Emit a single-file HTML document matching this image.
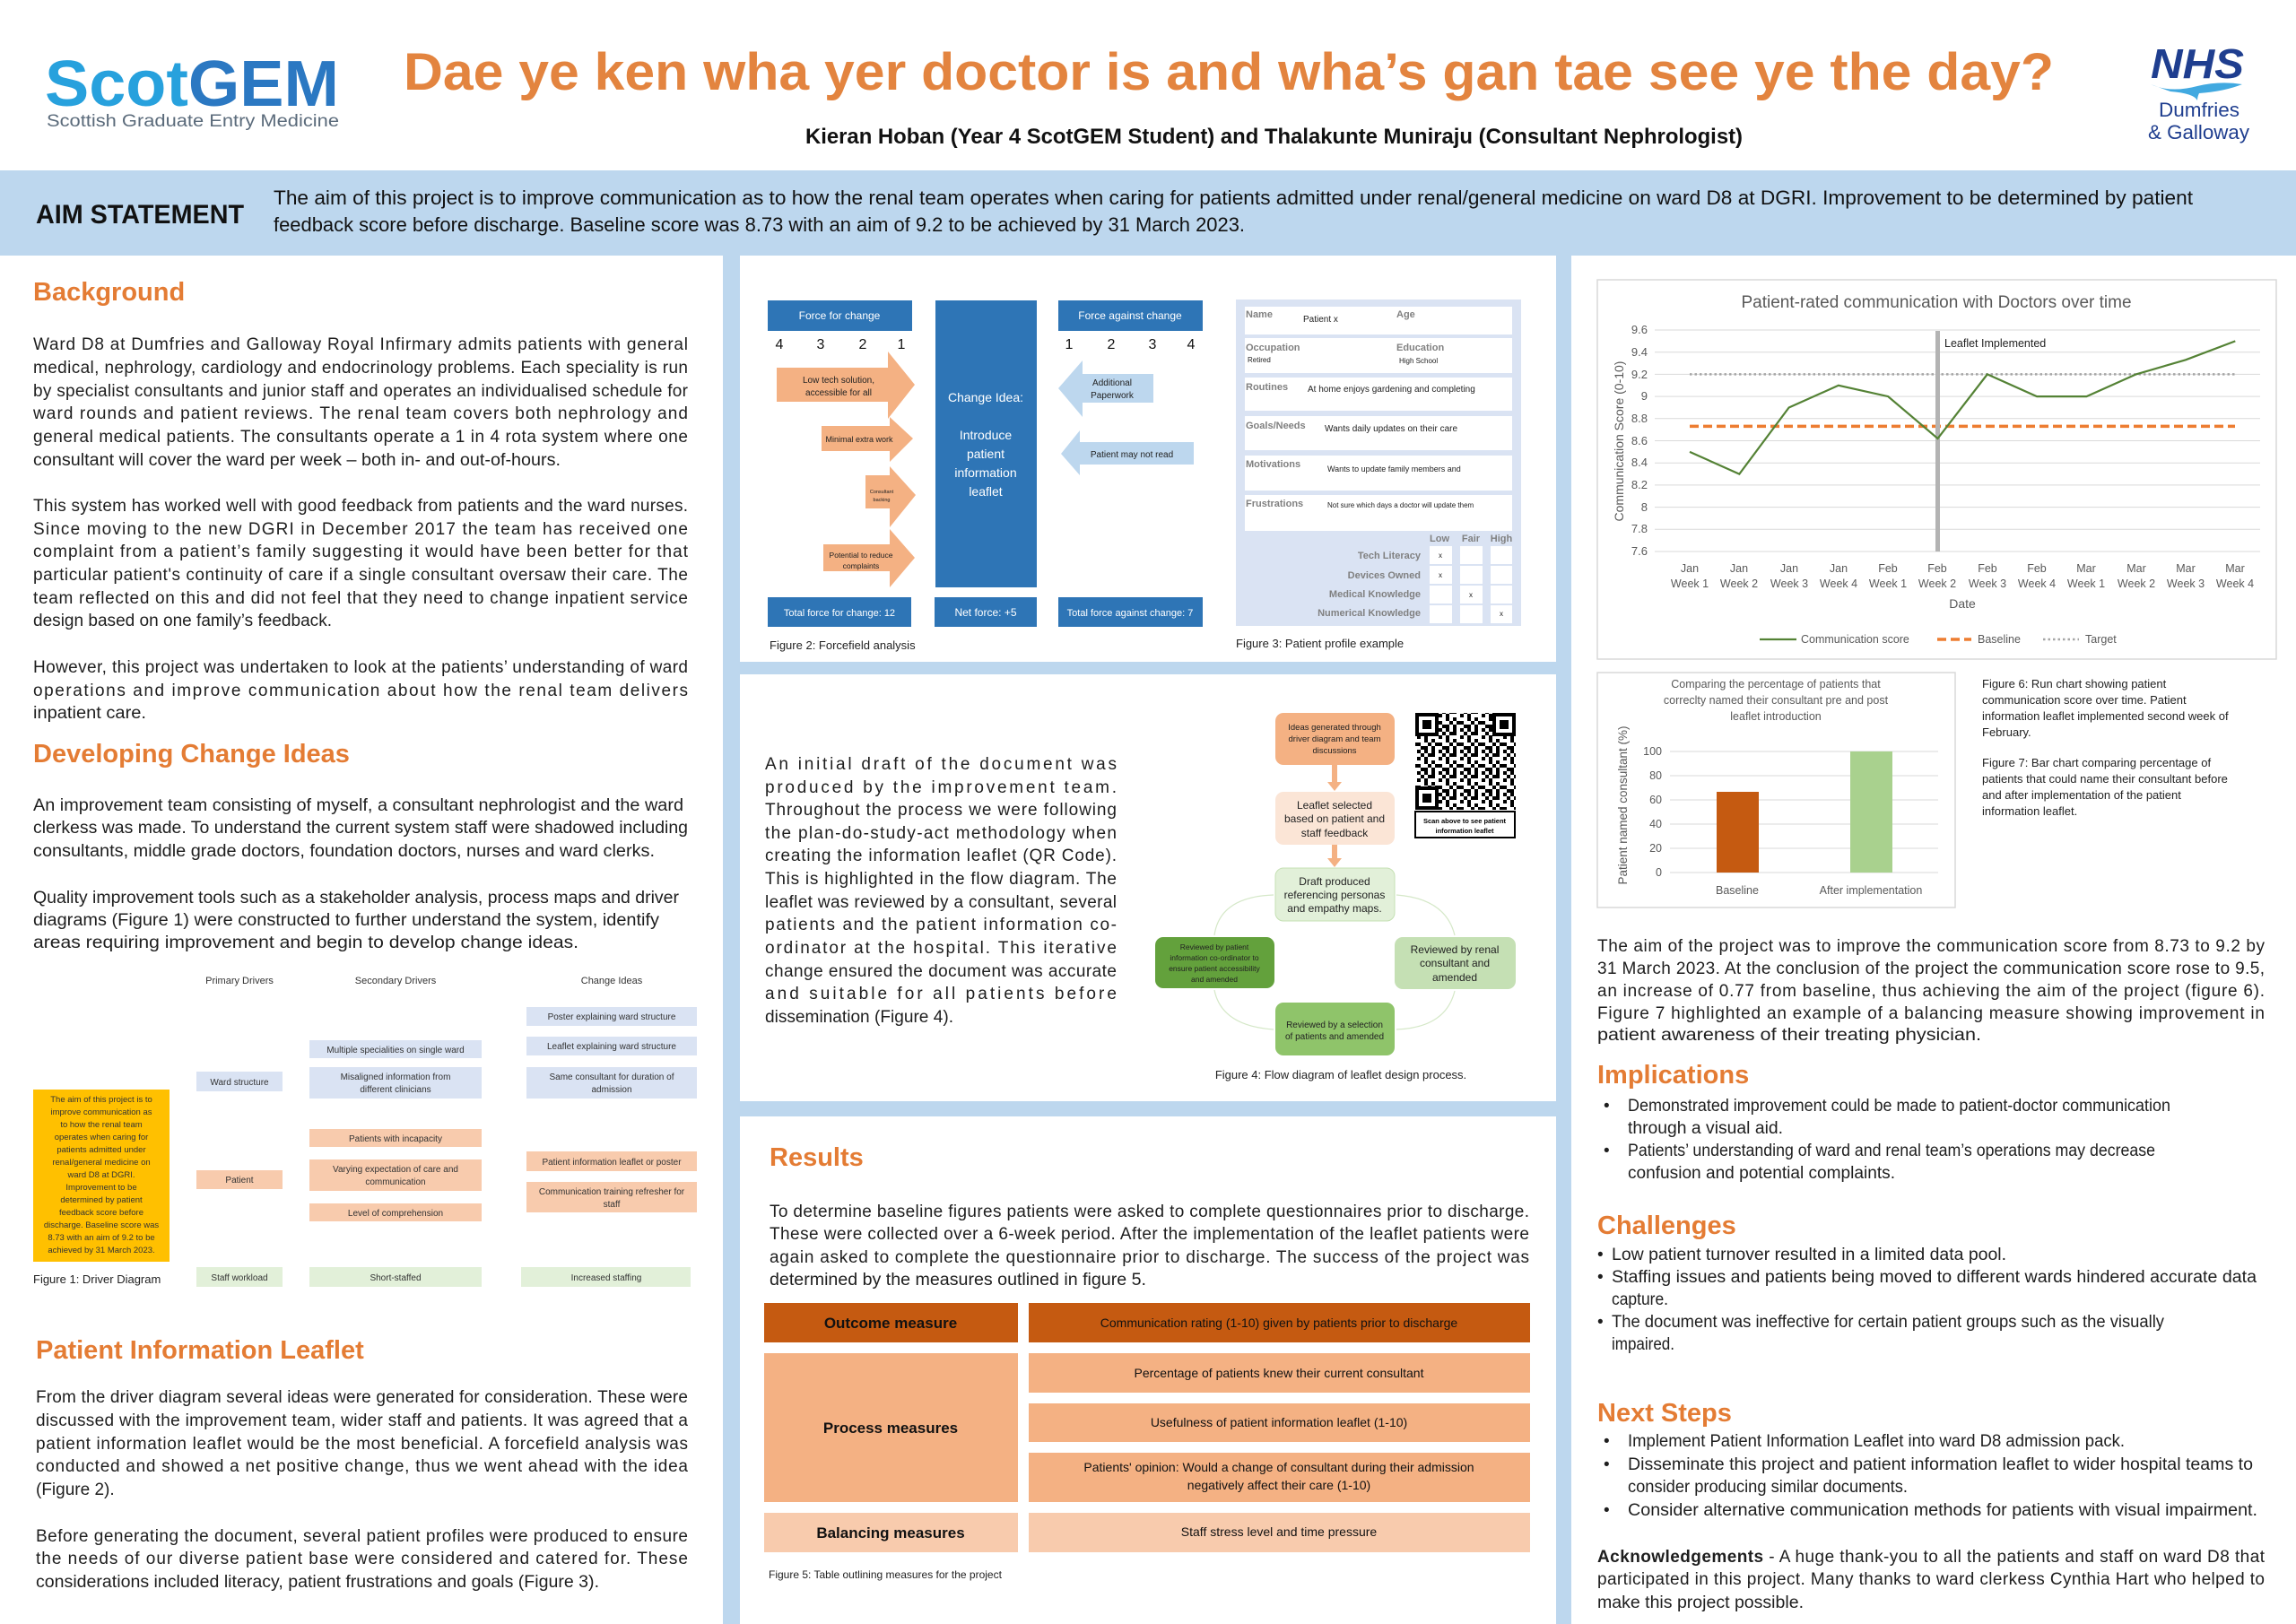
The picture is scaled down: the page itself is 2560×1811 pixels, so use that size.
<!DOCTYPE html>
<html><head><meta charset="utf-8"><style>
html,body{margin:0;padding:0;background:#fff;}
svg{display:block;}
text{font-family:"Liberation Sans",sans-serif;}
.b{font-size:19px;fill:#1e1e1e;}
.h{font-size:29px;font-weight:bold;fill:#e47c34;}
.s{font-size:11px;fill:#333;}
.w{fill:#fff;}
.gl{font-size:11px;font-weight:bold;fill:#808080;}
</style></head><body>
<svg width="2560" height="1811" viewBox="0 0 2560 1811" xmlns="http://www.w3.org/2000/svg">
<defs>
<pattern id="qr" width="24" height="24" patternUnits="userSpaceOnUse">
<rect x="0" y="0" width="4" height="4" fill="#000"/><rect x="8" y="0" width="8" height="4" fill="#000"/><rect x="20" y="4" width="4" height="4" fill="#000"/><rect x="4" y="4" width="4" height="8" fill="#000"/><rect x="12" y="8" width="4" height="4" fill="#000"/><rect x="16" y="12" width="8" height="4" fill="#000"/><rect x="0" y="16" width="8" height="4" fill="#000"/><rect x="12" y="16" width="4" height="8" fill="#000"/><rect x="20" y="20" width="4" height="4" fill="#000"/><rect x="4" y="20" width="4" height="4" fill="#000"/><rect x="8" y="12" width="4" height="4" fill="#000"/>
</pattern>
</defs>
<rect x="0" y="0" width="2560" height="1811" fill="#fff"/>
<rect x="0" y="190" width="2560" height="95" fill="#bdd7ee"/>
<rect x="806" y="285" width="19" height="1526" fill="#bdd7ee"/>
<rect x="1735" y="285" width="17" height="1526" fill="#bdd7ee"/>
<rect x="825" y="738" width="910" height="14" fill="#bdd7ee"/>
<rect x="825" y="1228" width="910" height="17" fill="#bdd7ee"/>

<text x="50" y="118" font-size="72" font-weight="bold" textLength="328" lengthAdjust="spacingAndGlyphs"><tspan fill="#27a1dd">Scot</tspan><tspan fill="#2b78c2">GEM</tspan></text>
<text x="52" y="141" font-size="19" fill="#5b6b7b" textLength="326" lengthAdjust="spacingAndGlyphs">Scottish Graduate Entry Medicine</text>
<text x="450" y="100" font-size="58" font-weight="bold" fill="#e3843f" textLength="1840" lengthAdjust="spacingAndGlyphs">Dae ye ken wha yer doctor is and wha’s gan tae see ye the day?</text>
<text x="898" y="160" font-size="24" font-weight="bold" fill="#111" textLength="1045" lengthAdjust="spacingAndGlyphs">Kieran Hoban (Year 4 ScotGEM Student) and Thalakunte Muniraju (Consultant Nephrologist)</text>
<text x="2398" y="87" font-size="46" font-weight="bold" font-style="italic" fill="#1f3e8f" textLength="104" lengthAdjust="spacingAndGlyphs">NHS</text>
<path d="M2398,94 Q2420,104 2450,96 Q2475,90 2500,94 Q2480,102 2452,104 Q2450,108 2450,112 Q2446,104 2420,102 Z" fill="#41a9e0"/>
<text x="2407" y="130" font-size="22" fill="#1f3e8f" textLength="90" lengthAdjust="spacingAndGlyphs">Dumfries</text>
<text x="2395" y="155" font-size="22" fill="#1f3e8f" textLength="113" lengthAdjust="spacingAndGlyphs">&amp; Galloway</text>

<text x="40" y="249" font-size="30" font-weight="bold" fill="#111" textLength="232" lengthAdjust="spacingAndGlyphs">AIM STATEMENT</text>
<text x="305" y="228" font-size="22" fill="#111" textLength="2140" lengthAdjust="spacingAndGlyphs">The aim of this project is to improve communication as to how the renal team operates when caring for patients admitted under renal/general medicine on ward D8 at DGRI. Improvement to be determined by patient</text>
<text x="305" y="258" font-size="22" fill="#111" textLength="1083" lengthAdjust="spacingAndGlyphs">feedback score before discharge. Baseline score was 8.73 with an aim of 9.2 to be achieved by 31 March 2023.</text>

<text class="h" x="37" y="335">Background</text>
<g class="b">
<text x="37" y="390" textLength="730" lengthAdjust="spacing">Ward D8 at Dumfries and Galloway Royal Infirmary admits patients with general</text>
<text x="37" y="416" textLength="730" lengthAdjust="spacing">medical, nephrology, cardiology and endocrinology problems. Each speciality is run</text>
<text x="37" y="442" textLength="730" lengthAdjust="spacing">by specialist consultants and junior staff and operates an individualised schedule for</text>
<text x="37" y="467" textLength="730" lengthAdjust="spacing">ward rounds and patient reviews. The renal team covers both nephrology and</text>
<text x="37" y="493" textLength="730" lengthAdjust="spacing">general medical patients. The consultants operate a 1 in 4 rota system where one</text>
<text x="37" y="519" textLength="588" lengthAdjust="spacingAndGlyphs">consultant will cover the ward per week – both in- and out-of-hours.</text>
<text x="37" y="570" textLength="730" lengthAdjust="spacing">This system has worked well with good feedback from patients and the ward nurses.</text>
<text x="37" y="596" textLength="730" lengthAdjust="spacing">Since moving to the new DGRI in December 2017 the team has received one</text>
<text x="37" y="621" textLength="730" lengthAdjust="spacing">complaint from a patient’s family suggesting it would have been better for that</text>
<text x="37" y="647" textLength="730" lengthAdjust="spacing">particular patient's continuity of care if a single consultant oversaw their care. The</text>
<text x="37" y="673" textLength="730" lengthAdjust="spacing">team reflected on this and did not feel that they need to change inpatient service</text>
<text x="37" y="698" textLength="333" lengthAdjust="spacingAndGlyphs">design based on one family’s feedback.</text>
<text x="37" y="750" textLength="730" lengthAdjust="spacing">However, this project was undertaken to look at the patients’ understanding of ward</text>
<text x="37" y="776" textLength="730" lengthAdjust="spacing">operations and improve communication about how the renal team delivers</text>
<text x="37" y="801" textLength="126" lengthAdjust="spacingAndGlyphs">inpatient care.</text>
</g>
<text class="h" x="37" y="850">Developing Change Ideas</text>
<g class="b">
<text x="37" y="904" textLength="725" lengthAdjust="spacingAndGlyphs">An improvement team consisting of myself, a consultant nephrologist and the ward</text>
<text x="37" y="929" textLength="730" lengthAdjust="spacingAndGlyphs">clerkess was made. To understand the current system staff were shadowed including</text>
<text x="37" y="955" textLength="693" lengthAdjust="spacingAndGlyphs">consultants, middle grade doctors, foundation doctors, nurses and ward clerks.</text>
<text x="37" y="1007" textLength="720" lengthAdjust="spacingAndGlyphs">Quality improvement tools such as a stakeholder analysis, process maps and driver</text>
<text x="37" y="1032" textLength="698" lengthAdjust="spacingAndGlyphs">diagrams (Figure 1) were constructed to further understand the system, identify</text>
<text x="37" y="1057" textLength="608" lengthAdjust="spacingAndGlyphs">areas requiring improvement and begin to develop change ideas.</text>
</g>

<g font-size="11" fill="#333" text-anchor="middle">
<text x="267" y="1097">Primary Drivers</text>
<text x="441" y="1097">Secondary Drivers</text>
<text x="682" y="1097">Change Ideas</text>
</g>
<rect x="37" y="1215" width="152" height="192" fill="#ffc000"/>
<g font-size="9.5" fill="#333" text-anchor="middle">
<text x="113" y="1229">The aim of this project is to</text>
<text x="113" y="1243">improve communication as</text>
<text x="113" y="1257">to how the renal team</text>
<text x="113" y="1271">operates when caring for</text>
<text x="113" y="1285">patients admitted under</text>
<text x="113" y="1299">renal/general medicine on</text>
<text x="113" y="1313">ward D8 at DGRI.</text>
<text x="113" y="1327">Improvement to be</text>
<text x="113" y="1341">determined by patient</text>
<text x="113" y="1355">feedback score before</text>
<text x="113" y="1369">discharge. Baseline score was</text>
<text x="113" y="1383">8.73 with an aim of 9.2 to be</text>
<text x="113" y="1397">achieved by 31 March 2023.</text>
</g>
<text x="37" y="1431" font-size="13" fill="#222">Figure 1: Driver Diagram</text>
<g>
<rect x="219" y="1195" width="96" height="22" fill="#dae3f3"/>
<rect x="219" y="1305" width="96" height="21" fill="#f8cbad"/>
<rect x="219" y="1413" width="96" height="22" fill="#e2f0d9"/>
<rect x="345" y="1160" width="192" height="20" fill="#dae3f3"/>
<rect x="345" y="1190" width="192" height="35" fill="#dae3f3"/>
<rect x="345" y="1259" width="192" height="20" fill="#f8cbad"/>
<rect x="345" y="1293" width="192" height="35" fill="#f8cbad"/>
<rect x="345" y="1342" width="192" height="20" fill="#f8cbad"/>
<rect x="345" y="1413" width="192" height="22" fill="#e2f0d9"/>
<rect x="587" y="1123" width="190" height="21" fill="#dae3f3"/>
<rect x="587" y="1156" width="190" height="21" fill="#dae3f3"/>
<rect x="587" y="1190" width="190" height="35" fill="#dae3f3"/>
<rect x="587" y="1284" width="190" height="22" fill="#f8cbad"/>
<rect x="587" y="1318" width="190" height="34" fill="#f8cbad"/>
<rect x="581" y="1413" width="189" height="22" fill="#e2f0d9"/>
</g>
<g font-size="10" fill="#333" text-anchor="middle">
<text x="267" y="1210">Ward structure</text>
<text x="267" y="1319">Patient</text>
<text x="267" y="1428">Staff workload</text>
<text x="441" y="1174">Multiple specialities on single ward</text>
<text x="441" y="1204">Misaligned information from</text>
<text x="441" y="1218">different clinicians</text>
<text x="441" y="1273">Patients with incapacity</text>
<text x="441" y="1307">Varying expectation of care and</text>
<text x="441" y="1321">communication</text>
<text x="441" y="1356">Level of comprehension</text>
<text x="441" y="1428">Short-staffed</text>
<text x="682" y="1137">Poster explaining ward structure</text>
<text x="682" y="1170">Leaflet explaining ward structure</text>
<text x="682" y="1204">Same consultant for duration of</text>
<text x="682" y="1218">admission</text>
<text x="682" y="1299">Patient information leaflet or poster</text>
<text x="682" y="1332">Communication training refresher for</text>
<text x="682" y="1346">staff</text>
<text x="676" y="1428">Increased staffing</text>
</g>

<text class="h" x="40" y="1515">Patient Information Leaflet</text>
<g class="b">
<text x="40" y="1564" textLength="727" lengthAdjust="spacing">From the driver diagram several ideas were generated for consideration. These were</text>
<text x="40" y="1590" textLength="727" lengthAdjust="spacing">discussed with the improvement team, wider staff and patients. It was agreed that a</text>
<text x="40" y="1616" textLength="727" lengthAdjust="spacing">patient information leaflet would be the most beneficial. A forcefield analysis was</text>
<text x="40" y="1641" textLength="727" lengthAdjust="spacing">conducted and showed a net positive change, thus we went ahead with the idea</text>
<text x="40" y="1667">(Figure 2).</text>
<text x="40" y="1719" textLength="727" lengthAdjust="spacing">Before generating the document, several patient profiles were produced to ensure</text>
<text x="40" y="1744" textLength="727" lengthAdjust="spacing">the needs of our diverse patient base were considered and catered for. These</text>
<text x="40" y="1770" textLength="628" lengthAdjust="spacingAndGlyphs">considerations included literacy, patient frustrations and goals (Figure 3).</text>
</g>

<rect x="856" y="335" width="161" height="34" fill="#2e75b6"/>
<rect x="1043" y="335" width="113" height="320" fill="#2e75b6"/>
<rect x="1180" y="335" width="161" height="34" fill="#2e75b6"/>
<rect x="856" y="666" width="160" height="33" fill="#2e75b6"/>
<rect x="1042" y="666" width="114" height="33" fill="#2e75b6"/>
<rect x="1180" y="666" width="161" height="33" fill="#2e75b6"/>
<g font-size="12" fill="#fff" text-anchor="middle">
<text x="936" y="356">Force for change</text>
<text x="1260" y="356">Force against change</text>
<text x="936" y="687" font-size="11">Total force for change: 12</text>
<text x="1099" y="687">Net force: +5</text>
<text x="1260" y="687" font-size="11">Total force against change: 7</text>
<text x="1099" y="448" font-size="14">Change Idea:</text>
<text x="1099" y="490" font-size="14">Introduce</text>
<text x="1099" y="511" font-size="14">patient</text>
<text x="1099" y="532" font-size="14">information</text>
<text x="1099" y="553" font-size="14">leaflet</text>
</g>
<g font-size="16" fill="#111" text-anchor="middle">
<text x="869" y="389">4</text><text x="915" y="389">3</text><text x="962" y="389">2</text><text x="1005" y="389">1</text>
<text x="1192" y="389">1</text><text x="1239" y="389">2</text><text x="1285" y="389">3</text><text x="1328" y="389">4</text>
</g>
<g fill="#f4b183">
<polygon points="866,410 990,410 990,392 1020,429 990,467 990,448 866,448"/>
<polygon points="916,475 992,475 992,465 1018,489 992,515 992,503 916,503"/>
<polygon points="965,530 992,530 992,520 1021,552 992,588 992,567 965,567"/>
<polygon points="918,607 992,607 992,590 1020,622 992,655 992,637 918,637"/>
</g>
<g fill="#bdd7ee">
<polygon points="1180,433 1207,402 1207,417 1286,417 1286,449 1207,449 1207,465"/>
<polygon points="1183,506 1204,480 1204,493 1331,493 1331,518 1204,518 1204,530"/>
</g>
<g fill="#222" text-anchor="middle">
<text x="935" y="427" font-size="10">Low tech solution,</text>
<text x="935" y="441" font-size="10">accessible for all</text>
<text x="958" y="493" font-size="9">Minimal extra work</text>
<text x="983" y="550" font-size="5.5">Consultant</text>
<text x="983" y="559" font-size="5.5">backing</text>
<text x="960" y="622" font-size="8.5">Potential to reduce</text>
<text x="960" y="634" font-size="8.5">complaints</text>
<text x="1240" y="430" font-size="10">Additional</text>
<text x="1240" y="444" font-size="10">Paperwork</text>
<text x="1262" y="510" font-size="10">Patient may not read</text>
</g>
<text x="858" y="724" font-size="13" fill="#222">Figure 2: Forcefield analysis</text>

<rect x="1378" y="334" width="318" height="364" fill="#dae3f3"/>
<g fill="#fff">
<rect x="1388" y="342" width="298" height="31"/>
<rect x="1388" y="377" width="298" height="39"/>
<rect x="1388" y="421" width="298" height="37"/>
<rect x="1388" y="464" width="298" height="38"/>
<rect x="1388" y="508" width="298" height="39"/>
<rect x="1388" y="552" width="298" height="40"/>
<rect x="1594" y="609" width="25" height="20"/><rect x="1628" y="609" width="25" height="20"/><rect x="1662" y="609" width="24" height="20"/>
<rect x="1594" y="631" width="25" height="20"/><rect x="1628" y="631" width="25" height="20"/><rect x="1662" y="631" width="24" height="20"/>
<rect x="1594" y="653" width="25" height="20"/><rect x="1628" y="653" width="25" height="20"/><rect x="1662" y="653" width="24" height="20"/>
<rect x="1594" y="675" width="25" height="20"/><rect x="1628" y="675" width="25" height="20"/><rect x="1662" y="675" width="24" height="20"/>
</g>
<g class="gl">
<text x="1389" y="354">Name</text><text x="1557" y="354">Age</text>
<text x="1389" y="391">Occupation</text><text x="1557" y="391">Education</text>
<text x="1389" y="435">Routines</text>
<text x="1389" y="478">Goals/Needs</text>
<text x="1389" y="521">Motivations</text>
<text x="1389" y="565">Frustrations</text>
<text x="1605" y="604" text-anchor="middle">Low</text>
<text x="1640" y="604" text-anchor="middle">Fair</text>
<text x="1674" y="604" text-anchor="middle">High</text>
<text x="1584" y="623" text-anchor="end">Tech Literacy</text>
<text x="1584" y="645" text-anchor="end">Devices Owned</text>
<text x="1584" y="666" text-anchor="end">Medical Knowledge</text>
<text x="1584" y="687" text-anchor="end">Numerical Knowledge</text>
</g>
<g fill="#222">
<text x="1453" y="359" font-size="10">Patient x</text>
<text x="1391" y="404" font-size="8">Retired</text>
<text x="1560" y="405" font-size="8">High School</text>
<text x="1458" y="437" font-size="10">At home enjoys gardening and completing</text>
<text x="1477" y="481" font-size="10">Wants daily updates on their care</text>
<text x="1480" y="526" font-size="9">Wants to update family members and</text>
<text x="1480" y="566" font-size="8">Not sure which days a doctor will update them</text>
<g font-size="8" text-anchor="middle">
<text x="1606" y="622">x</text><text x="1606" y="644">x</text><text x="1640" y="666">x</text><text x="1674" y="687">x</text>
</g>
</g>
<text x="1378" y="722" font-size="13" fill="#222">Figure 3: Patient profile example</text>

<g class="b">
<text x="853" y="858" textLength="392" lengthAdjust="spacing">An initial draft of the document was</text>
<text x="853" y="884" textLength="392" lengthAdjust="spacing">produced by the improvement team.</text>
<text x="853" y="909" textLength="392" lengthAdjust="spacing">Throughout the process we were following</text>
<text x="853" y="935" textLength="392" lengthAdjust="spacing">the plan-do-study-act methodology when</text>
<text x="853" y="960" textLength="392" lengthAdjust="spacing">creating the information leaflet (QR Code).</text>
<text x="853" y="986" textLength="392" lengthAdjust="spacing">This is highlighted in the flow diagram. The</text>
<text x="853" y="1012" textLength="392" lengthAdjust="spacing">leaflet was reviewed by a consultant, several</text>
<text x="853" y="1037" textLength="392" lengthAdjust="spacing">patients and the patient information co-</text>
<text x="853" y="1063" textLength="392" lengthAdjust="spacing">ordinator at the hospital. This iterative</text>
<text x="853" y="1089" textLength="392" lengthAdjust="spacing">change ensured the document was accurate</text>
<text x="853" y="1114" textLength="392" lengthAdjust="spacing">and suitable for all patients before</text>
<text x="853" y="1140" textLength="210" lengthAdjust="spacingAndGlyphs">dissemination (Figure 4).</text>
</g>
<g fill="none" stroke="#d5e8c8" stroke-width="1.2">
<path d="M1557,998 Q1612,1002 1622,1043"/>
<path d="M1622,1105 Q1612,1146 1557,1148"/>
<path d="M1420,1148 Q1362,1144 1354,1104"/>
<path d="M1354,1043 Q1360,1000 1420,998"/>
</g>
<g fill="#f4b183">
<rect x="1485" y="853" width="6" height="20"/><polygon points="1480,872 1496,872 1488,882"/>
<rect x="1485" y="942" width="6" height="16"/><polygon points="1480,957 1496,957 1488,967"/>
</g>
<rect x="1422" y="795" width="133" height="58" rx="9" fill="#f4b183"/>
<rect x="1422" y="883" width="133" height="59" rx="9" fill="#fbe5d6"/>
<rect x="1422" y="968" width="133" height="59" rx="9" fill="#e2f0d9" stroke="#c5e0b4"/>
<rect x="1555" y="1045" width="135" height="58" rx="9" fill="#c5e0b4"/>
<rect x="1422" y="1118" width="133" height="59" rx="9" fill="#8fc46a"/>
<rect x="1288" y="1045" width="133" height="57" rx="9" fill="#63a13c"/>
<g fill="#222" text-anchor="middle">
<g font-size="9.5"><text x="1488" y="814">Ideas generated through</text><text x="1488" y="827">driver diagram and team</text><text x="1488" y="840">discussions</text></g>
<g font-size="12"><text x="1488" y="902">Leaflet selected</text><text x="1488" y="917">based on patient and</text><text x="1488" y="933">staff feedback</text></g>
<g font-size="12"><text x="1488" y="987">Draft produced</text><text x="1488" y="1002">referencing personas</text><text x="1488" y="1017">and empathy maps.</text></g>
<g font-size="12"><text x="1622" y="1063">Reviewed by renal</text><text x="1622" y="1078">consultant and</text><text x="1622" y="1094">amended</text></g>
<g font-size="10"><text x="1488" y="1146">Reviewed by a selection</text><text x="1488" y="1159">of patients and amended</text></g>
<g font-size="8.5"><text x="1354" y="1059">Reviewed by patient</text><text x="1354" y="1071">information co-ordinator to</text><text x="1354" y="1083">ensure patient accessibility</text><text x="1354" y="1095">and amended</text></g>
</g>
<rect x="1578" y="795" width="112" height="108" fill="url(#qr)"/>
<g fill="#fff" stroke="#000" stroke-width="4">
<rect x="1580" y="797" width="22" height="22"/><rect x="1666" y="797" width="22" height="22"/><rect x="1580" y="879" width="22" height="22"/>
</g>
<g fill="#000"><rect x="1586" y="803" width="10" height="10"/><rect x="1672" y="803" width="10" height="10"/><rect x="1586" y="885" width="10" height="10"/></g>
<rect x="1578" y="905" width="111" height="29" fill="#fff" stroke="#000" stroke-width="2"/>
<g font-size="7.5" font-weight="bold" fill="#000" text-anchor="middle"><text x="1633" y="918">Scan above to see patient</text><text x="1633" y="929">information  leaflet</text></g>
<text x="1495" y="1203" font-size="13" fill="#222" text-anchor="middle">Figure 4: Flow diagram of leaflet design process.</text>

<text class="h" x="858" y="1300">Results</text>
<g class="b">
<text x="858" y="1357" textLength="847" lengthAdjust="spacing">To determine baseline figures patients were asked to complete questionnaires prior to discharge.</text>
<text x="858" y="1382" textLength="847" lengthAdjust="spacing">These were collected over a 6-week period. After the implementation of the leaflet patients were</text>
<text x="858" y="1408" textLength="847" lengthAdjust="spacing">again asked to complete the questionnaire prior to discharge. The success of the project was</text>
<text x="858" y="1433" textLength="420" lengthAdjust="spacingAndGlyphs">determined by the measures outlined in figure 5.</text>
</g>
<rect x="852" y="1453" width="283" height="44" fill="#c55a11"/>
<rect x="1147" y="1453" width="559" height="44" fill="#c55a11"/>
<rect x="852" y="1509" width="283" height="166" fill="#f4b183"/>
<rect x="1147" y="1509" width="559" height="44" fill="#f4b183"/>
<rect x="1147" y="1565" width="559" height="43" fill="#f4b183"/>
<rect x="1147" y="1620" width="559" height="55" fill="#f4b183"/>
<rect x="852" y="1687" width="283" height="44" fill="#f8cbad"/>
<rect x="1147" y="1687" width="559" height="44" fill="#f8cbad"/>
<g text-anchor="middle" fill="#111">
<g font-size="17" font-weight="bold"><text x="993" y="1481">Outcome measure</text><text x="993" y="1598">Process measures</text><text x="993" y="1715">Balancing measures</text></g>
<g font-size="14"><text x="1426" y="1480">Communication rating (1-10) given by patients prior to discharge</text>
<text x="1426" y="1536">Percentage of patients knew their current consultant</text>
<text x="1426" y="1591">Usefulness of patient information leaflet (1-10)</text>
<text x="1426" y="1641">Patients' opinion: Would a change of consultant during their admission</text>
<text x="1426" y="1661">negatively affect their care (1-10)</text>
<text x="1426" y="1713">Staff stress level and time pressure</text></g>
</g>
<text x="857" y="1760" font-size="12" fill="#222">Figure 5: Table outlining measures for the project</text>

<rect x="1781" y="312" width="757" height="423" fill="#fff" stroke="#d9d9d9" stroke-width="1.5"/>
<text x="2159" y="343" font-size="19" fill="#595959" text-anchor="middle">Patient-rated communication with Doctors over time</text>
<g stroke="#d9d9d9" stroke-width="1">
<line x1="1845" y1="368" x2="2520" y2="368"/><line x1="1845" y1="392.7" x2="2520" y2="392.7"/><line x1="1845" y1="417.4" x2="2520" y2="417.4"/><line x1="1845" y1="442.1" x2="2520" y2="442.1"/><line x1="1845" y1="466.8" x2="2520" y2="466.8"/><line x1="1845" y1="491.5" x2="2520" y2="491.5"/><line x1="1845" y1="516.2" x2="2520" y2="516.2"/><line x1="1845" y1="540.9" x2="2520" y2="540.9"/><line x1="1845" y1="565.6" x2="2520" y2="565.6"/><line x1="1845" y1="590.3" x2="2520" y2="590.3"/><line x1="1845" y1="615" x2="2520" y2="615"/>
</g>
<g font-size="13" fill="#595959" text-anchor="end">
<text x="1837" y="372">9.6</text><text x="1837" y="397">9.4</text><text x="1837" y="422">9.2</text><text x="1837" y="446">9</text><text x="1837" y="471">8.8</text><text x="1837" y="496">8.6</text><text x="1837" y="520">8.4</text><text x="1837" y="545">8.2</text><text x="1837" y="570">8</text><text x="1837" y="594">7.8</text><text x="1837" y="619">7.6</text>
</g>
<text transform="translate(1810,492) rotate(-90)" font-size="14" fill="#595959" text-anchor="middle">Communication Score (0-10)</text>
<g font-size="12.5" fill="#595959" text-anchor="middle">
<text x="1884" y="638">Jan</text><text x="1884" y="655">Week 1</text>
<text x="1939" y="638">Jan</text><text x="1939" y="655">Week 2</text>
<text x="1995" y="638">Jan</text><text x="1995" y="655">Week 3</text>
<text x="2050" y="638">Jan</text><text x="2050" y="655">Week 4</text>
<text x="2105" y="638">Feb</text><text x="2105" y="655">Week 1</text>
<text x="2160" y="638">Feb</text><text x="2160" y="655">Week 2</text>
<text x="2216" y="638">Feb</text><text x="2216" y="655">Week 3</text>
<text x="2271" y="638">Feb</text><text x="2271" y="655">Week 4</text>
<text x="2326" y="638">Mar</text><text x="2326" y="655">Week 1</text>
<text x="2382" y="638">Mar</text><text x="2382" y="655">Week 2</text>
<text x="2437" y="638">Mar</text><text x="2437" y="655">Week 3</text>
<text x="2492" y="638">Mar</text><text x="2492" y="655">Week 4</text>
<text x="2188" y="678" font-size="14">Date</text>
</g>
<line x1="1884" y1="417.4" x2="2492" y2="417.4" stroke="#a6a6a6" stroke-width="2.5" stroke-dasharray="2.5,3"/>
<line x1="1884" y1="475.4" x2="2492" y2="475.4" stroke="#ed7d31" stroke-width="3.5" stroke-dasharray="10,5"/>
<line x1="2160.5" y1="369" x2="2160.5" y2="615" stroke="#b3b3b3" stroke-width="5"/>
<text x="2168" y="387" font-size="12.5" fill="#222">Leaflet Implemented</text>
<polyline fill="none" stroke="#548235" stroke-width="2.2" points="1884,503.9 1939.3,528.6 1994.6,454.5 2049.9,429.8 2105.2,442.1 2160.5,489 2215.8,417.4 2271.1,442.1 2326.4,442.1 2381.7,417.4 2437,401.3 2492.3,380.4"/>
<line x1="1962" y1="713" x2="2003" y2="713" stroke="#548235" stroke-width="2.2"/>
<text x="2008" y="717" font-size="12.5" fill="#595959">Communication score</text>
<line x1="2160" y1="713" x2="2198" y2="713" stroke="#ed7d31" stroke-width="3.5" stroke-dasharray="10,5"/>
<text x="2205" y="717" font-size="12.5" fill="#595959">Baseline</text>
<line x1="2278" y1="713" x2="2318" y2="713" stroke="#a6a6a6" stroke-width="2.5" stroke-dasharray="2.5,3"/>
<text x="2325" y="717" font-size="12.5" fill="#595959">Target</text>

<rect x="1781" y="750" width="399" height="262" fill="#fff" stroke="#d9d9d9" stroke-width="1.5"/>
<g font-size="12.5" fill="#595959" text-anchor="middle">
<text x="1980" y="767">Comparing the percentage of patients that</text>
<text x="1980" y="785">correclty named their consultant pre and post</text>
<text x="1980" y="803">leaflet introduction</text>
</g>
<g stroke="#d9d9d9"><line x1="1862" y1="838" x2="2161" y2="838"/><line x1="1862" y1="865" x2="2161" y2="865"/><line x1="1862" y1="892" x2="2161" y2="892"/><line x1="1862" y1="919" x2="2161" y2="919"/><line x1="1862" y1="946" x2="2161" y2="946"/><line x1="1862" y1="973" x2="2161" y2="973"/></g>
<g font-size="12.5" fill="#595959" text-anchor="end">
<text x="1853" y="842">100</text><text x="1853" y="869">80</text><text x="1853" y="896">60</text><text x="1853" y="923">40</text><text x="1853" y="950">20</text><text x="1853" y="977">0</text>
</g>
<rect x="1914" y="883" width="47" height="90" fill="#c55a11"/>
<rect x="2063" y="838" width="47" height="135" fill="#a9d18e"/>
<g font-size="12.5" fill="#595959" text-anchor="middle"><text x="1937" y="997">Baseline</text><text x="2086" y="997">After implementation</text></g>
<text transform="translate(1814,898) rotate(-90)" font-size="13.5" fill="#595959" text-anchor="middle">Patient named consultant (%)</text>
<g font-size="13" fill="#222">
<text x="2210" y="767">Figure 6: Run chart showing patient</text>
<text x="2210" y="785">communication score over time. Patient</text>
<text x="2210" y="803">information leaflet implemented second week of</text>
<text x="2210" y="821">February.</text>
<text x="2210" y="855">Figure 7: Bar chart comparing percentage of</text>
<text x="2210" y="873">patients that could name their consultant before</text>
<text x="2210" y="891">and after implementation of the patient</text>
<text x="2210" y="909">information leaflet.</text>
</g>

<g class="b">
<text x="1781" y="1061" textLength="744" lengthAdjust="spacing">The aim of the project was to improve the communication score from 8.73 to 9.2 by</text>
<text x="1781" y="1086" textLength="744" lengthAdjust="spacing">31 March 2023. At the conclusion of the project the communication score rose to 9.5,</text>
<text x="1781" y="1111" textLength="744" lengthAdjust="spacing">an increase of 0.77 from baseline, thus achieving the aim of the project (figure 6).</text>
<text x="1781" y="1136" textLength="744" lengthAdjust="spacing">Figure 7 highlighted an example of a balancing measure showing improvement in</text>
<text x="1781" y="1160" textLength="428" lengthAdjust="spacingAndGlyphs">patient awareness of their treating physician.</text>
</g>
<text class="h" x="1781" y="1208">Implications</text>
<g class="b">
<text x="1788" y="1239">•</text><text x="1815" y="1239" textLength="605" lengthAdjust="spacingAndGlyphs">Demonstrated improvement could be made to patient-doctor communication</text>
<text x="1815" y="1264" textLength="173" lengthAdjust="spacingAndGlyphs">through a visual aid.</text>
<text x="1788" y="1289">•</text><text x="1815" y="1289" textLength="588" lengthAdjust="spacingAndGlyphs">Patients’ understanding of ward and renal team’s operations may decrease</text>
<text x="1815" y="1314" textLength="298" lengthAdjust="spacingAndGlyphs">confusion and potential complaints.</text>
</g>
<text class="h" x="1781" y="1376">Challenges</text>
<g class="b">
<text x="1781" y="1405">•</text><text x="1797" y="1405" textLength="440" lengthAdjust="spacingAndGlyphs">Low patient turnover resulted in a limited data pool.</text>
<text x="1781" y="1430">•</text><text x="1797" y="1430" textLength="719" lengthAdjust="spacingAndGlyphs">Staffing issues and patients being moved to different wards hindered accurate data</text>
<text x="1797" y="1455" textLength="63" lengthAdjust="spacingAndGlyphs">capture.</text>
<text x="1781" y="1480">•</text><text x="1797" y="1480" textLength="616" lengthAdjust="spacingAndGlyphs">The document was ineffective for certain patient groups such as the visually</text>
<text x="1797" y="1505" textLength="70" lengthAdjust="spacingAndGlyphs">impaired.</text>
</g>
<text class="h" x="1781" y="1585">Next Steps</text>
<g class="b">
<text x="1788" y="1613">•</text><text x="1815" y="1613" textLength="554" lengthAdjust="spacingAndGlyphs">Implement Patient Information Leaflet into ward D8 admission pack.</text>
<text x="1788" y="1639">•</text><text x="1815" y="1639" textLength="697" lengthAdjust="spacingAndGlyphs">Disseminate this project and patient information leaflet to wider hospital teams to</text>
<text x="1815" y="1664" textLength="312" lengthAdjust="spacingAndGlyphs">consider producing similar documents.</text>
<text x="1788" y="1690">•</text><text x="1815" y="1690" textLength="702" lengthAdjust="spacingAndGlyphs">Consider alternative communication methods for patients with visual impairment.</text>
<text x="1781" y="1742" textLength="744" lengthAdjust="spacing"><tspan font-weight="bold">Acknowledgements</tspan> - A huge thank-you to all the patients and staff on ward D8 that</text>
<text x="1781" y="1767" textLength="744" lengthAdjust="spacing">participated in this project. Many thanks to ward clerkess Cynthia Hart who helped to</text>
<text x="1781" y="1793" textLength="230" lengthAdjust="spacingAndGlyphs">make this project possible.</text>
</g>
</svg>
</body></html>
